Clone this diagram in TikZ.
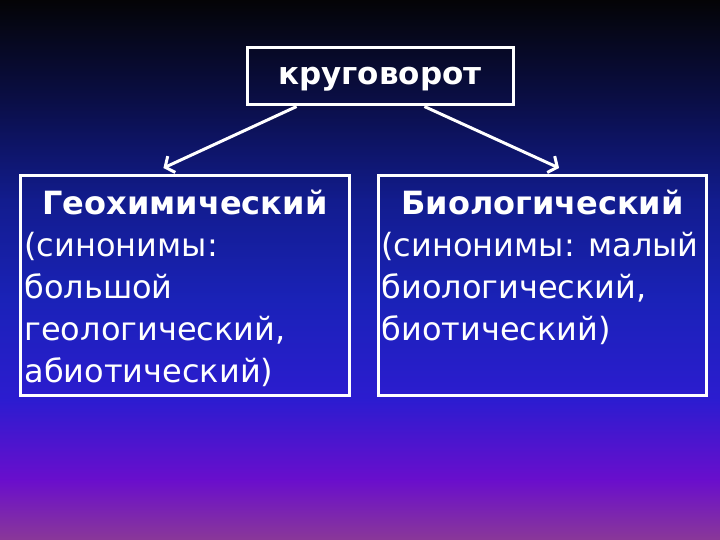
\documentclass[tikz,border=0pt]{standalone}
\usepackage{fontspec}
\setmainfont{DejaVu Sans}
\usetikzlibrary{arrows.meta,calc}
\definecolor{skyA}{HTML}{040406}
\definecolor{skyB}{HTML}{0A0E46}
\definecolor{skyC}{HTML}{121C8E}
\definecolor{skyD}{HTML}{1A22B8}
\definecolor{skyE}{HTML}{2C1CD0}
\definecolor{skyF}{HTML}{6A0ECC}
\definecolor{skyG}{HTML}{8A3898}
\tikzset{
  frame/.style={draw=white,line width=3pt,inner sep=0pt,text=white},
  link/.style={draw=white,line width=3pt,
    -{Straight Barb[length=7pt,width=18pt,line width=3pt]}},
}
\begin{document}
\begin{tikzpicture}[x=1pt,y=-1pt]
% background
\fill[top color=skyA,bottom color=skyB] (0,0) rectangle (720,101);
\fill[top color=skyB,bottom color=skyC] (0,100) rectangle (720,201);
\fill[top color=skyC,bottom color=skyD] (0,200) rectangle (720,301);
\fill[top color=skyD,bottom color=skyE] (0,300) rectangle (720,401);
\fill[top color=skyE,bottom color=skyF] (0,400) rectangle (720,481);
\fill[top color=skyF,bottom color=skyG] (0,480) rectangle (720,540);
\useasboundingbox (0,0) rectangle (720,540);
% boxes
\node[frame,minimum width=266pt,minimum height=57pt,
  font=\fontsize{31}{36}\selectfont\bfseries] (cycle) at (380,76.5)
  {\raisebox{-8pt}[0pt][0pt]{круговорот}};
\node[frame,minimum width=329pt,minimum height=220pt,anchor=north west] (geo) at (19,174)
  {\parbox[c][214pt][t]{321pt}{\fontsize{32}{42}\selectfont\raggedright
   \vspace*{12pt}{\centering\bfseries Геохимический\par}
   (синонимы:\\ большой\\ геологический,\\ абиотический)}};
\node[frame,minimum width=328pt,minimum height=220pt,anchor=north west] (bio) at (377,174)
  {\parbox[c][214pt][t]{322pt}{\fontsize{32}{42}\selectfont\raggedright
   \vspace*{12pt}{\centering\bfseries Биологический\par}
   (синонимы: малый\\ биологический,\\ биотический)}};
% arrows
\coordinate (geoFrom) at ($(cycle.south west)!0.19!(cycle.south east)$);
\coordinate (bioFrom) at ($(cycle.south west)!0.665!(cycle.south east)$);
\coordinate (geoTip) at ($(geo.north west)!0.435!(geo.north east)+(0,-6)$);
\coordinate (bioTip) at ($(bio.north west)!0.55!(bio.north east)+(0,-6)$);
\draw[link] (geoFrom) -- (geoTip);
\draw[link] (bioFrom) -- (bioTip);
\end{tikzpicture}
\end{document}
